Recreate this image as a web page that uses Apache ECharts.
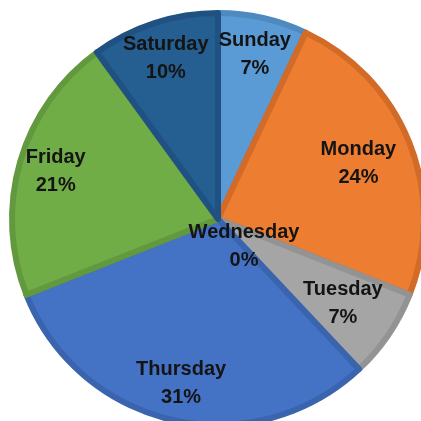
<!DOCTYPE html>
<html>
<head>
<meta charset="utf-8">
<script src="https://cdn.jsdelivr.net/npm/echarts@6/dist/echarts.min.js"></script>
<style>
html,body{margin:0;padding:0;background:#fff;}
#chart{width:421px;height:421px;}
</style>
</head>
<body>
<div id="chart"></div>
<script>
const categories = ['Sunday', 'Monday', 'Tuesday', 'Wednesday', 'Thursday', 'Friday', 'Saturday'];
const values = [7, 24, 7, 0, 31, 21, 10];
const fillColors = ['#5B9BD5', '#ED7D31', '#A5A5A5', '#FFC000', '#4472C4', '#70AD47', '#255E91'];
const edgeColors = ['#4E89BF', '#D26B27', '#939393', '#E0A800', '#3A64AE', '#63993E', '#1F5282'];

const chart = echarts.init(document.getElementById('chart'), null, {renderer: 'canvas'});
const center = [218, 219];
const R = 208;

const labelStyle = {
  show: true,
  position: 'inside',
  formatter: '{b}\n{c}%',
  color: '#141414',
  fontFamily: 'Liberation Sans, Arial, sans-serif',
  fontWeight: 'bold',
  fontSize: 20,
  lineHeight: 28
};

// which labels sit at which depth inside the pie
const labelGroups = [
  {names: ['Sunday', 'Thursday', 'Friday', 'Saturday'], radius: [124, R]},
  {names: ['Monday', 'Tuesday'], radius: [88, R]},
  {names: ['Wednesday'], radius: [0, 70]}
];

const mainSeries = {
  type: 'pie',
  center: center,
  radius: [0, R - 2],
  startAngle: 90,
  clockwise: true,
  silent: true,
  label: {show: false},
  labelLine: {show: false},
  emphasis: {disabled: true},
  data: categories.map((c, i) => ({
    name: c,
    value: values[i],
    itemStyle: {
      color: fillColors[i],
      borderColor: edgeColors[i],
      borderWidth: values[i] === 0 ? 0 : 6
    }
  }))
};

const labelSeries = labelGroups.map(g => ({
  type: 'pie',
  center: center,
  radius: g.radius,
  startAngle: 90,
  clockwise: true,
  silent: true,
  emphasis: {disabled: true},
  labelLine: {show: false},
  itemStyle: {color: 'rgba(0,0,0,0)', borderWidth: 0},
  label: labelStyle,
  data: categories.map((c, i) => ({
    name: c,
    value: values[i],
    label: {show: g.names.indexOf(c) >= 0}
  }))
}));

chart.setOption({
  animation: false,
  backgroundColor: '#fff',
  series: [mainSeries].concat(labelSeries)
});
</script>
</body>
</html>
